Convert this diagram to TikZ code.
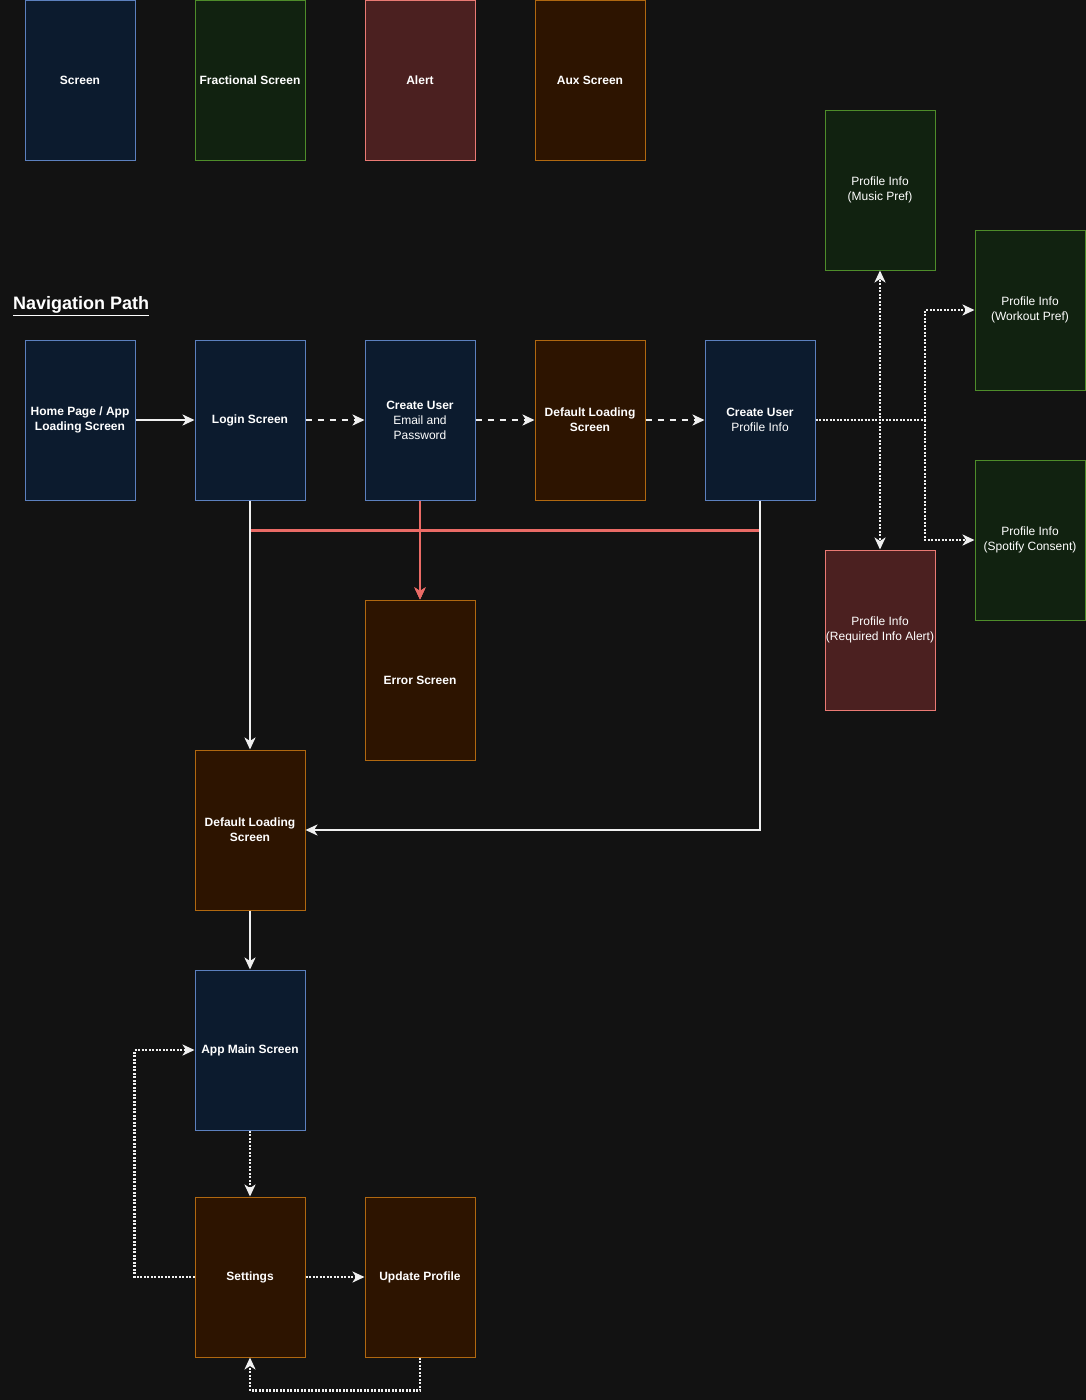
\documentclass[tikz,border=0pt]{standalone}
\usepackage{fontspec}
\setmainfont{Liberation Sans}
\usetikzlibrary{arrows.meta}
\definecolor{bgc}{RGB}{18,18,18}
\definecolor{bfill}{RGB}{12,27,46}
\definecolor{bdraw}{RGB}{92,128,190}
\definecolor{gfill}{RGB}{17,34,16}
\definecolor{gdraw}{RGB}{78,140,42}
\definecolor{rfill}{RGB}{75,32,32}
\definecolor{rdraw}{RGB}{234,122,116}
\definecolor{ofill}{RGB}{45,20,0}
\definecolor{odraw}{RGB}{176,104,16}
\definecolor{rline}{RGB}{234,107,102}
\definecolor{wline}{RGB}{240,240,240}
\tikzset{
  box/.style={rectangle, minimum width=110pt, minimum height=160pt, inner sep=0pt, line width=1pt, align=center, text=white, font=\fontsize{12}{15}\selectfont},
  bluebox/.style={box, fill=bfill, draw=bdraw},
  greenbox/.style={box, fill=gfill, draw=gdraw},
  redbox/.style={box, fill=rfill, draw=rdraw},
  orangebox/.style={box, fill=ofill, draw=odraw},
  wedge/.style={draw=wline, line width=2.2pt, -{Stealth[length=12pt,width=11pt,inset=3.5pt]}},
  redge/.style={draw=rline, line width=2.2pt, -{Stealth[length=12pt,width=11pt,inset=3.5pt]}},
  dashedge/.style={wedge, dash pattern=on 6pt off 6pt},
  dotedge/.style={wedge, dash pattern=on 2pt off 1.5pt},
}
\begin{document}
\begin{tikzpicture}[x=1pt,y=-1pt]
\fill[bgc] (0,0) rectangle (1086,1400);
\useasboundingbox (0,0) rectangle (1086,1400);
% legend
\node[bluebox] (lscreen) at (80,80) {\textbf{Screen}};
\node[greenbox] (lfrac) at (250,80) {\textbf{Fractional Screen}};
\node[redbox] (lalert) at (420,80) {\textbf{Alert}};
\node[orangebox] (laux) at (590,80) {\textbf{Aux Screen}};
% title
\node[anchor=west, inner sep=0pt, text=white, font=\fontsize{18}{21}\selectfont\bfseries] (title) at (13,306) {\underline{Navigation Path}};
% main row
\node[bluebox] (home) at (80,420) {\textbf{Home Page / App}\\\textbf{Loading Screen}};
\node[bluebox] (login) at (250,420) {\textbf{Login Screen}};
\node[bluebox] (cu) at (420,420) {\textbf{Create User}\\Email and\\Password};
\node[orangebox] (dl) at (590,420) {\textbf{Default Loading}\\\textbf{Screen}};
\node[bluebox] (prof) at (760,420) {\textbf{Create User}\\Profile Info};
% profile sub screens
\node[greenbox] (music) at (880,190) {Profile Info\\(Music Pref)};
\node[greenbox] (work) at (1030,310) {Profile Info\\(Workout Pref)};
\node[greenbox] (spot) at (1030,540) {Profile Info\\(Spotify Consent)};
\node[redbox] (req) at (880,630) {Profile Info\\(Required Info Alert)};
% lower
\node[orangebox] (err) at (420,680) {\textbf{Error Screen}};
\node[orangebox] (dl2) at (250,830) {\textbf{Default Loading}\\\textbf{Screen}};
\node[bluebox] (app) at (250,1050) {\textbf{App Main Screen}};
\node[orangebox] (set) at (250,1277) {\textbf{Settings}};
\node[orangebox] (upd) at (420,1277) {\textbf{Update Profile}};
% connectors
\draw[wedge] (home) -- (login);
\draw[dashedge] (login) -- (cu);
\draw[dashedge] (cu) -- (dl);
\draw[dashedge] (dl) -- (prof);
\coordinate (j) at (925,420);
\draw[dotedge] (prof.east) -| (music.south);
\draw[dotedge] (prof.east) -| (req.north);
\draw[dotedge] (prof.east) -- (j) |- (work.west);
\draw[dotedge] (j) |- (spot.west);
% red error paths
\draw[redge] (login.south) -- ++(0,30) -| (err.north);
\draw[redge] (prof.south) -- ++(0,30) -| (err.north);
\draw[redge] (cu.south) -- (err.north);
% white paths
\draw[wedge] (login.south) -- (dl2.north);
\draw[wedge] (prof.south) |- (dl2.east);
\draw[wedge] (dl2) -- (app);
\draw[dotedge] (app) -- (set);
\draw[dotedge] (set.west) -- ++(-60,0) |- (app.west);
\draw[dotedge] (set) -- (upd);
\draw[dotedge] (upd.south) -- ++(0,33) -| (set.south);
\end{tikzpicture}
\end{document}
